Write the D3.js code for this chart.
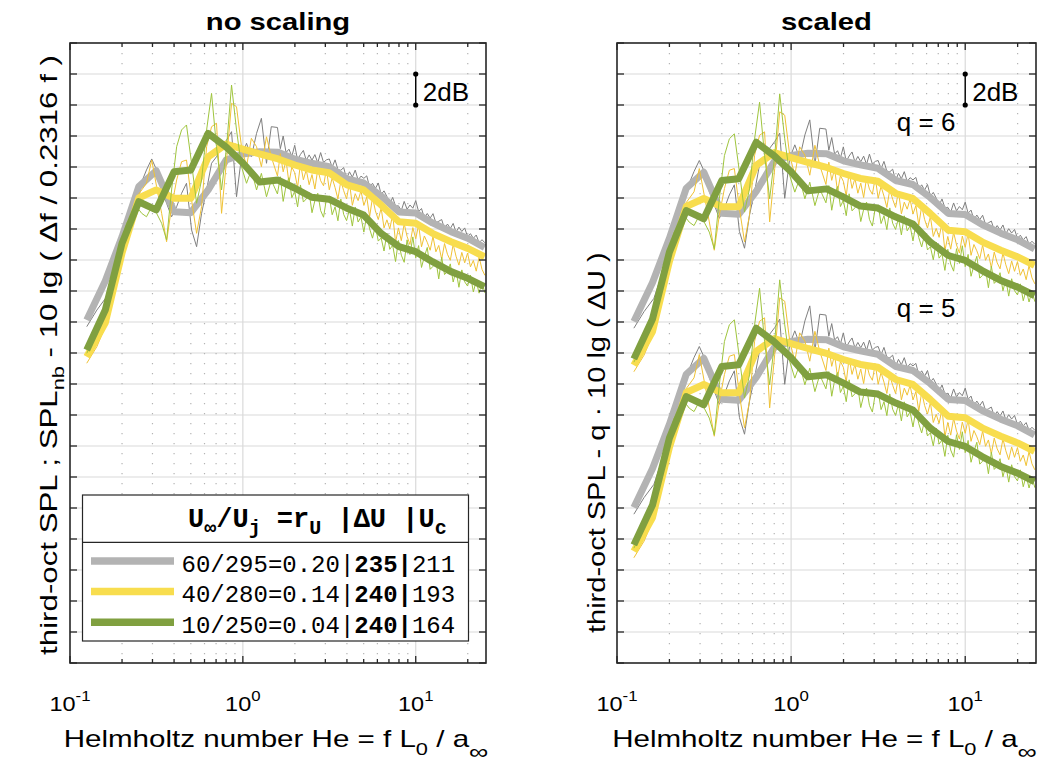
<!DOCTYPE html>
<html>
<head>
<meta charset="utf-8">
<script src="https://cdn.jsdelivr.net/npm/d3@7"></script>
<style>
  body { margin: 0; background: #fff; }
  text { font-family: "Liberation Sans", Arial, Helvetica, sans-serif; fill: #000; }
  .mono { font-family: "Liberation Mono", "Courier New", monospace; }
</style>
</head>
<body>
<div id="chart"></div>
<script>
// third-octave band centres (He) and band levels in dB, "no scaling" panel
const bandFreq = [0.125, 0.16, 0.2, 0.25, 0.315, 0.4, 0.5, 0.63, 0.8, 1, 1.25, 1.6, 2, 2.5, 3.15, 4, 5, 6.3, 8, 10, 12.5, 16, 20, 25];
const bandGray = [22.13, 24.65, 27.50, 30.73, 31.76, 29.12, 29.05, 30.52, 32.45, 32.84, 32.99, 32.95, 32.50, 32.24, 32.02, 31.23, 30.97, 30.13, 29.10, 29.03, 28.39, 27.83, 27.40, 26.81];
const bandYellow = [19.76, 21.94, 26.45, 30.00, 30.52, 29.98, 29.98, 32.65, 33.48, 33.16, 32.84, 32.52, 32.13, 31.81, 31.63, 30.84, 30.52, 29.55, 28.47, 28.37, 27.72, 27.18, 26.75, 26.21];
const bandGreen = [20.19, 22.77, 27.08, 29.76, 29.23, 31.70, 31.81, 34.17, 33.29, 32.26, 31.03, 31.16, 30.63, 30.05, 29.92, 29.34, 28.90, 27.72, 26.86, 26.54, 25.89, 25.25, 24.82, 24.28];

// narrowband spectra (thin lines), dB
const nbFreq = [0.125, 0.143, 0.163, 0.186, 0.213, 0.243, 0.260, 0.277, 0.297, 0.317, 0.339, 0.362, 0.387, 0.414, 0.442, 0.472, 0.505, 0.540, 0.577, 0.617,
  0.659, 0.704, 0.753, 0.805, 0.860, 0.919, 0.982, 1.05, 1.12, 1.20, 1.28, 1.37, 1.46,
  1.585, 1.647, 1.711, 1.778, 1.848, 1.920, 1.995, 2.073, 2.154, 2.239, 2.326, 2.418, 2.512, 2.610, 2.712, 2.818, 2.929, 3.043,
  3.162, 3.286, 3.415, 3.548, 3.687, 3.831, 3.981, 4.137, 4.299, 4.467, 4.642, 4.823, 5.012, 5.208, 5.412, 5.623, 5.843, 6.072,
  6.310, 6.556, 6.813, 7.079, 7.356, 7.644, 7.943, 8.254, 8.577, 8.913, 9.261, 9.624, 10.00, 10.39, 10.80, 11.22, 11.66, 12.12,
  12.59, 13.08, 13.59, 14.13, 14.68, 15.26, 15.85, 16.47, 17.11, 17.78, 18.48, 19.20, 19.95, 20.73, 21.54, 22.39, 23.26, 24.18, 25.12];
const nbGray = [21.70, 22.77, 23.63, 25.57, 28.37, 30.73, 31.05, 31.81, 32.52, 31.81, 30.52, 29.66, 28.79, 29.44, 30.30, 30.95, 27.94, 26.86, 29.01, 30.52,
  32.24, 32.66, 33.31, 33.74, 34.28, 30.08, 32.66, 33.53, 32.66, 34.17, 35.14, 32.24, 34.60,
  34.55, 33.18, 34.00, 32.93, 33.15, 32.68, 33.40, 32.46, 32.81, 33.07, 32.43, 32.78, 32.44, 32.80, 32.27, 32.93, 32.29, 32.46,
  32.52, 31.99, 32.46, 31.83, 31.79, 31.96, 31.23, 31.69, 31.34, 31.80, 31.16, 31.41, 31.27, 31.43, 30.69, 30.95, 30.61, 30.97,
  30.23, 30.46, 30.09, 29.62, 30.04, 29.47, 29.50, 29.19, 29.78, 29.27, 29.55, 29.34, 29.83, 29.12, 29.32, 28.71, 29.00, 28.70,
  28.99, 28.40, 28.50, 28.61, 28.02, 28.32, 28.03, 28.36, 27.79, 28.12, 27.84, 28.07, 27.50, 27.70, 27.40, 27.61, 27.11, 27.31, 27.11];
const nbYellow = [19.34, 20.41, 21.92, 24.92, 27.94, 30.08, 30.52, 30.95, 32.45, 30.73, 29.01, 27.18, 29.44, 31.16, 32.34, 32.45, 29.87, 27.72, 29.44, 33.31,
  34.60, 34.82, 29.01, 32.45, 36.11, 35.89, 33.31, 32.02, 33.85, 33.31, 32.02, 33.95, 32.66,
  31.42, 32.86, 31.69, 32.43, 30.96, 32.00, 31.63, 30.68, 32.22, 31.17, 31.82, 30.86, 31.51, 30.58, 31.85, 31.12, 30.79, 31.86,
  30.53, 31.30, 30.67, 29.94, 31.10, 30.47, 29.94, 30.99, 29.53, 30.28, 29.83, 30.47, 29.52, 30.06, 28.80, 30.04, 29.17, 28.61,
  29.35, 28.07, 28.59, 28.01, 28.93, 27.15, 28.07, 27.25, 28.34, 27.52, 27.00, 28.09, 27.37, 28.26, 26.85, 27.55, 27.14, 26.63,
  27.52, 26.53, 26.94, 26.05, 27.06, 26.37, 25.98, 27.01, 26.24, 25.67, 26.49, 25.82, 26.45, 25.56, 25.97, 25.28, 26.19, 25.40, 25.01];
const nbGreen = [19.98, 21.27, 22.99, 26.21, 28.37, 29.44, 29.01, 28.79, 29.44, 29.01, 28.37, 27.29, 30.52, 33.31, 34.39, 34.71, 32.24, 29.66, 31.16, 34.39,
  36.75, 33.31, 30.52, 33.31, 37.29, 34.39, 32.02, 30.95, 31.81, 30.52, 31.59, 30.08, 31.16,
  30.26, 31.37, 29.78, 30.80, 31.31, 30.02, 30.43, 29.43, 30.84, 29.74, 29.94, 30.35, 29.05, 29.83, 30.31, 29.19, 28.76, 29.94,
  30.12, 28.92, 29.43, 28.53, 29.93, 28.94, 28.54, 29.27, 28.19, 29.42, 28.45, 28.77, 27.80, 28.90, 28.01, 27.41, 28.21, 27.22,
  27.42, 26.58, 27.73, 26.69, 26.95, 25.90, 27.26, 26.31, 25.85, 27.30, 26.35, 27.49, 26.14, 26.93, 25.52, 26.22, 26.81, 25.40,
  25.59, 25.98, 24.78, 26.17, 25.06, 25.26, 25.75, 24.58, 25.31, 24.24, 25.36, 24.59, 24.32, 25.03, 23.94, 24.65, 23.86, 24.57, 23.88];

// scaled panel: shift of each run (dB) and gap between the q = 6 and q = 5 copies
const scaledShift = [0.1, 0.55, 0.57];
const qValues = [6, 5];
const qGap = 12;
const qLabelHe = 4.05;
const qLabelDb = 34.3;

// legend table
const speedRatio = ["60/295=0.20", "40/280=0.14", "10/250=0.04"];
const deltaU = ["235", "240", "240"];
const convSpeed = ["211", "193", "164"];

const xTickValues = [0.1, 1, 10];
const xTickExp = ["-1", "0", "1"];

const width = 1040, height = 763;
const plotTop = 43, plotBottom = 663;

const svg = d3.select("#chart").append("svg")
    .attr("width", width)
    .attr("height", height);

const y = d3.scaleLinear().domain([0, 40]).range([plotBottom, plotTop]);

const runs = [
    {band: bandGray, nb: nbGray, thick: "#b3b3b3", thin: "#7f7f7f"},
    {band: bandYellow, nb: nbYellow, thick: "#f8dd4e", thin: "#f0c235"},
    {band: bandGreen, nb: nbGreen, thick: "#80a040", thin: "#9fc53d"}
];

const panels = [
    {title: "no scaling", left: 70, right: 486},
    {title: "scaled", left: 617, right: 1036}
];

// stretch text horizontally so that it is len pixels long
const fitWidth = (g, len) => len / g.node().getBBox().width;

panels.forEach((p, pi) => {
    const x = d3.scaleLog().domain([0.1, 25.5]).range([p.left, p.right]);
    const cx = (p.left + p.right) / 2;
    const g = svg.append("g");

    svg.append("clipPath").attr("id", "clip" + pi)
        .append("rect")
        .attr("x", p.left).attr("y", plotTop)
        .attr("width", p.right - p.left).attr("height", plotBottom - plotTop);

    const allTicks = x.ticks();
    const isMajor = t => Math.abs(Math.log10(t) - Math.round(Math.log10(t))) < 1e-9;
    const major = allTicks.filter(isMajor);
    const minor = allTicks.filter(t => !isMajor(t));
    const yTicks = y.ticks(20);

    // grid
    g.selectAll(".hgrid").data(yTicks.filter(v => v > 0 && v < 40)).join("line")
        .attr("x1", p.left).attr("x2", p.right)
        .attr("y1", d => y(d)).attr("y2", d => y(d))
        .attr("stroke", "#dadada").attr("stroke-width", 1.2);
    g.selectAll(".mgrid").data(minor).join("line")
        .attr("x1", d => x(d)).attr("x2", d => x(d))
        .attr("y1", plotTop).attr("y2", plotBottom)
        .attr("stroke", "#b4b4b4").attr("stroke-width", 1.2)
        .attr("stroke-dasharray", "1.3,8.7");
    g.selectAll(".vgrid").data(major.filter(v => v > 0.1)).join("line")
        .attr("x1", d => x(d)).attr("x2", d => x(d))
        .attr("y1", plotTop).attr("y2", plotBottom)
        .attr("stroke", "#dadada").attr("stroke-width", 1.2);

    // spectra
    const line = d3.line().x(d => x(d[0])).y(d => y(d[1]));
    const plot = g.append("g").attr("clip-path", `url(#clip${pi})`);
    const copies = pi === 0 ? [0] : qValues.map((q, k) => k * qGap);
    copies.forEach(c => {
        runs.forEach((r, ri) => {
            const off = pi === 0 ? 0 : c + scaledShift[ri];
            plot.append("path")
                .datum(nbFreq.map((f, k) => [f, r.nb[k] - off]))
                .attr("d", line)
                .attr("fill", "none")
                .attr("stroke", r.thin)
                .attr("stroke-width", 1);
            plot.append("path")
                .datum(bandFreq.map((f, k) => [f, r.band[k] - off]))
                .attr("d", line)
                .attr("fill", "none")
                .attr("stroke", r.thick)
                .attr("stroke-width", 7)
                .attr("stroke-linejoin", "round");
        });
    });

    // frame and ticks
    g.append("rect")
        .attr("x", p.left).attr("y", plotTop)
        .attr("width", p.right - p.left).attr("height", plotBottom - plotTop)
        .attr("fill", "none").attr("stroke", "#262626").attr("stroke-width", 1.6);
    [[p.left, 7], [p.right, -7]].forEach(([x0, len]) => {
        g.selectAll(null).data(yTicks).join("line")
            .attr("x1", x0).attr("x2", x0 + len)
            .attr("y1", d => y(d)).attr("y2", d => y(d))
            .attr("stroke", "#262626").attr("stroke-width", 1.3);
    });
    [[plotBottom, -1], [plotTop, 1]].forEach(([y0, dir]) => {
        g.selectAll(null).data(allTicks).join("line")
            .attr("x1", d => x(d)).attr("x2", d => x(d))
            .attr("y1", y0).attr("y2", d => y0 + dir * (isMajor(d) ? 7 : 4))
            .attr("stroke", "#262626").attr("stroke-width", 1.3);
    });

    // tick labels
    xTickValues.forEach((v, k) => {
        const tg = g.append("g").attr("transform", `translate(${x(v)},711) scale(1.12,1)`);
        const t = tg.append("text").attr("text-anchor", "middle").attr("font-size", 21);
        t.append("tspan").text("10");
        t.append("tspan").attr("font-size", 15).attr("dy", -10).text(xTickExp[k]);
    });

    // title
    g.append("g").attr("transform", `translate(${cx},30) scale(1.27,1)`)
        .append("text")
        .attr("text-anchor", "middle")
        .attr("font-size", 23)
        .attr("font-weight", "bold")
        .text(p.title);

    // x label
    const xl = g.append("g");
    const xt = xl.append("text").attr("text-anchor", "middle").attr("font-size", 23);
    xt.append("tspan").text("Helmholtz number He = f L");
    xt.append("tspan").attr("font-size", 17).attr("dy", 8).text("0");
    xt.append("tspan").attr("dy", -8).text(" / a");
    xt.append("tspan").attr("font-size", 21).attr("dy", 12).text("\u221e");
    xl.attr("transform", `translate(${cx - 2},747) scale(${fitWidth(xl, 425)},1)`);

    // y label
    const yl = g.append("g");
    const yt = yl.append("text").attr("font-size", 23);
    if (pi === 0) {
        yt.attr("text-anchor", "middle");
        yt.append("tspan").text("third-oct SPL ;  SPL");
        yt.append("tspan").attr("font-size", 16).attr("dy", 7).text("nb");
        yt.append("tspan").attr("dy", -7).text(" - 10 lg ( \u0394f / 0.2316 f )");
        yl.attr("transform", `translate(57,355) rotate(-90) scale(${fitWidth(yl, 600)},1)`);
    } else {
        yt.attr("text-anchor", "start");
        yt.text("third-oct SPL - q \u00b7 10 lg ( \u0394U )");
        yl.attr("transform", `translate(605,633) rotate(-90) scale(${fitWidth(yl, 381)},1)`);
    }

    // 2 dB scale bar
    g.append("line")
        .attr("x1", x(10)).attr("x2", x(10))
        .attr("y1", y(36)).attr("y2", y(38))
        .attr("stroke", "#000").attr("stroke-width", 1.4);
    g.selectAll(null).data([36, 38]).join("circle")
        .attr("cx", x(10)).attr("cy", d => y(d)).attr("r", 2.6).attr("fill", "#000");
    g.append("text")
        .attr("x", x(10) + 7).attr("y", y(36) - 4)
        .attr("font-size", 26)
        .text("2dB");

    if (pi === 1) {
        qValues.forEach((q, k) => {
            g.append("text")
                .attr("x", x(qLabelHe)).attr("y", y(qLabelDb - k * qGap))
                .attr("font-size", 26)
                .text("q = " + q);
        });
    }

    if (pi === 0) {
        // legend
        const lg = g.append("g");
        lg.append("rect")
            .attr("x", 82.5).attr("y", 495)
            .attr("width", 386).attr("height", 146)
            .attr("fill", "#fff").attr("stroke", "#262626").attr("stroke-width", 1.2);
        lg.append("line")
            .attr("x1", 82.5).attr("x2", 468.5).attr("y1", 542.3).attr("y2", 542.3)
            .attr("stroke", "#262626").attr("stroke-width", 1.2);

        const head = lg.append("text").attr("class", "mono")
            .attr("x", 188).attr("y", 527)
            .attr("font-size", 27).attr("font-weight", "bold");
        const headParts = [
            ["U", false], ["\u221e", true], ["/U", false], ["j", true],
            [" =r", false], ["U", true], [" |\u0394U |U", false], ["c", true]
        ];
        headParts.forEach(([s, sub], k) => {
            const prevSub = k > 0 && headParts[k - 1][1];
            head.append("tspan")
                .attr("dy", sub ? 7 : (prevSub ? -7 : 0))
                .attr("font-size", sub ? 20 : 27)
                .text(s);
        });

        runs.forEach((r, k) => {
            const ly = 561 + k * 30.6;
            lg.append("line")
                .attr("x1", 91).attr("x2", 174)
                .attr("y1", ly).attr("y2", ly)
                .attr("stroke", r.thick).attr("stroke-width", 7.5);
            const t = lg.append("text").attr("class", "mono")
                .attr("x", 181.5).attr("y", ly + 10.5)
                .attr("font-size", 24);
            t.append("tspan").text(speedRatio[k] + "|");
            t.append("tspan").attr("font-weight", "bold").text(deltaU[k] + "|");
            t.append("tspan").text(convSpeed[k]);
        });
    }
});
</script>
</body>
</html>
